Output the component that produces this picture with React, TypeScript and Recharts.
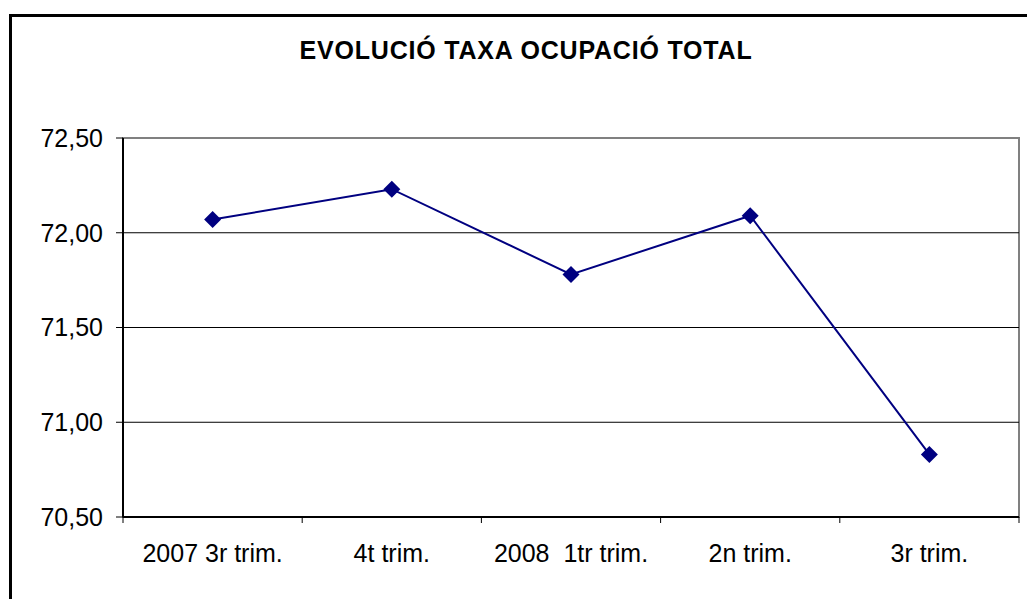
import React from 'react';
import { LineChart, Line, XAxis, YAxis, ReferenceLine, ReferenceArea } from 'recharts';

const title = 'EVOLUCIÓ TAXA OCUPACIÓ TOTAL';
const categories = ['2007 3r trim.', '4t trim.', '2008  1tr trim.', '2n trim.', '3r trim.'];
const rates = [72.07, 72.23, 71.78, 72.09, 70.83];
const yTicks = [70.5, 71, 71.5, 72, 72.5];
const gridValues = [71, 71.5, 72];

// each category sits in the middle of its slot, slot edges get the tick marks
const data = categories.map((name, i) => ({ name, pos: i + 0.5, rate: rates[i] }));
const xTicks: number[] = [];
for (let i = 0; i <= categories.length; i++) {
  xTicks.push(i);
  if (i < categories.length) xTicks.push(i + 0.5);
}

const font = '"Liberation Sans", Arial, sans-serif';
const navy = '#000080';

const XTick = (props: any) => {
  const { x, y, payload } = props;
  const v = payload.value;
  if (Number.isInteger(v)) {
    return <line x1={x} x2={x} y1={y - 27} y2={y - 21} stroke="#000" strokeWidth={1} />;
  }
  return (
    <text x={x} y={y} dy="0.71em" textAnchor="middle" fill="#000" fontSize={25}
      fontFamily={font} style={{ whiteSpace: 'pre' }}>
      {categories[Math.floor(v)]}
    </text>
  );
};

const Diamond = (props: any) => {
  const { cx, cy } = props;
  if (cx == null || cy == null) return null;
  const r = 8.5;
  return (
    <polygon points={`${cx},${cy - r} ${cx + r},${cy} ${cx},${cy + r} ${cx - r},${cy}`} fill={navy} />
  );
};

const App = () => {
  return (
    <div style={{ position: 'absolute', left: 0, top: 0, width: 1027, height: 599, overflow: 'hidden', background: '#fff' }}>
      <div style={{ position: 'absolute', left: 9, top: 14, width: 1100, height: 700, border: '3px solid #000' }} />
      <svg width={1027} height={90} style={{ position: 'absolute', left: 0, top: 0 }}>
        <text x={526} y={59} textAnchor="middle" fontSize={25} fontWeight="bold"
          fontFamily={font} letterSpacing={0.8} fill="#000">{title}</text>
      </svg>
      <div style={{ position: 'absolute', left: 0, top: 0 }}>
        <LineChart width={1027} height={599} data={data}
          margin={{ top: 138, right: 8, bottom: 22, left: 10 }}>
          <ReferenceArea x1={0} x2={5} y1={70.5} y2={72.5} fill="none" stroke="#808080" strokeWidth={2} />
          {gridValues.map((v) => (
            <ReferenceLine key={v} y={v} stroke="#000" strokeWidth={1} />
          ))}
          <XAxis dataKey="pos" type="number" domain={[0, 5]} ticks={xTicks} allowDecimals
            height={60} tickSize={6} tickMargin={21} tickLine={false}
            axisLine={{ stroke: '#000', strokeWidth: 2 }} tick={<XTick />} interval={0} />
          <YAxis type="number" domain={[70.5, 72.5]} ticks={yTicks} width={113}
            tickSize={7} tickMargin={13} interval={0}
            tickFormatter={(v: number) => v.toFixed(2).replace('.', ',')}
            tick={{ fill: '#000', fontSize: 25, fontFamily: font }}
            tickLine={{ stroke: '#000' }} axisLine={{ stroke: '#000', strokeWidth: 2 }} />
          <Line type="linear" dataKey="rate" stroke={navy} strokeWidth={2}
            dot={<Diamond />} activeDot={false} isAnimationActive={false} />
        </LineChart>
      </div>
    </div>
  );
};

export default App;
